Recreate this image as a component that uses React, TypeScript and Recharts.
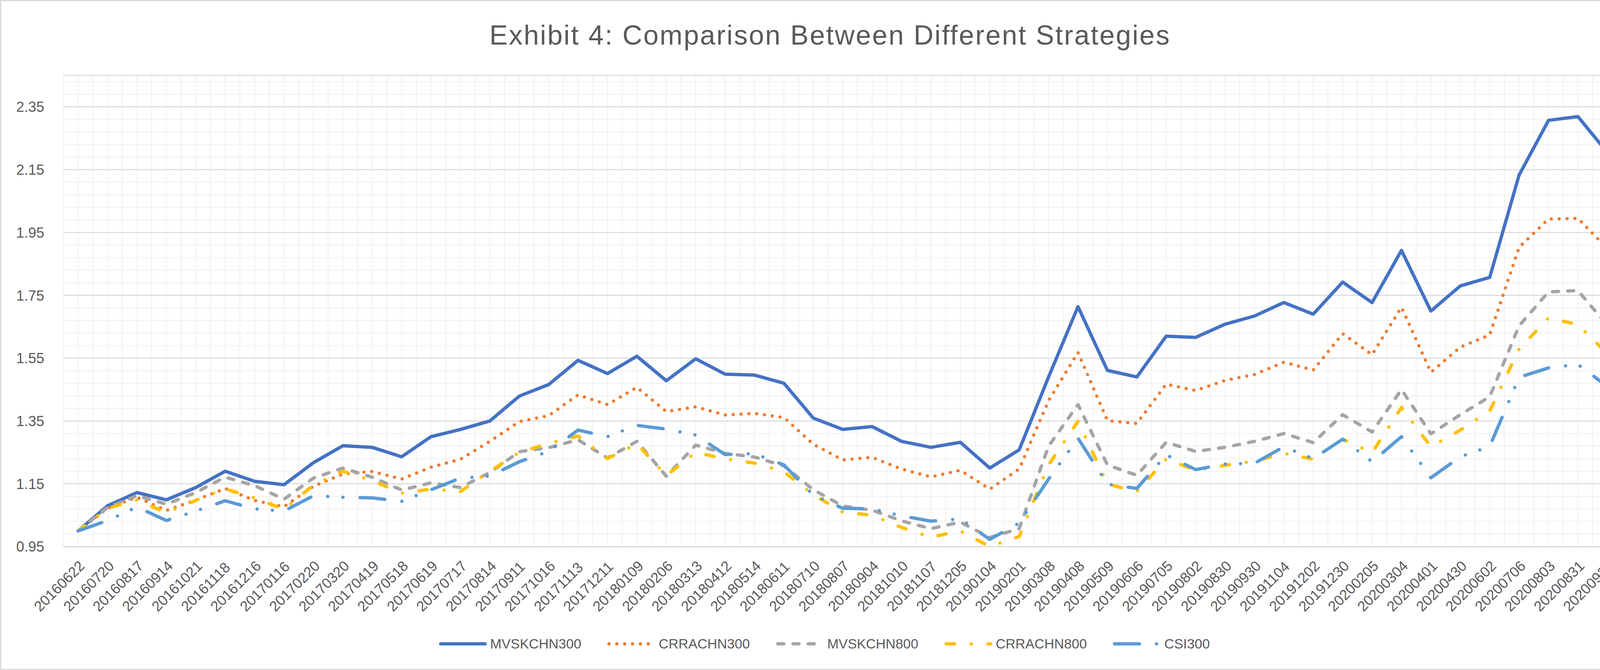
import { CartesianGrid, Legend, Line, LineChart, XAxis, YAxis } from 'recharts';

const DATES = [
  '20160622', '20160720', '20160817', '20160914', '20161021', '20161118', '20161216', '20170116',
  '20170220', '20170320', '20170419', '20170518', '20170619', '20170717', '20170814', '20170911',
  '20171016', '20171113', '20171211', '20180109', '20180206', '20180313', '20180412', '20180514',
  '20180611', '20180710', '20180807', '20180904', '20181010', '20181107', '20181205', '20190104',
  '20190201', '20190308', '20190408', '20190509', '20190606', '20190705', '20190802', '20190830',
  '20190930', '20191104', '20191202', '20191230', '20200205', '20200304', '20200401', '20200430',
  '20200602', '20200706', '20200803', '20200831', '20200928',
];

const MVSKCHN300 = [
  1.000, 1.080, 1.122, 1.099, 1.138, 1.190, 1.158, 1.147, 1.217, 1.271, 1.266, 1.236, 1.300, 1.323,
  1.350, 1.429, 1.466, 1.543, 1.501, 1.556, 1.478, 1.548, 1.499, 1.496, 1.470, 1.359, 1.323, 1.332,
  1.285, 1.266, 1.282, 1.200, 1.258, 1.490, 1.714, 1.511, 1.490, 1.620, 1.616, 1.658, 1.684, 1.727,
  1.690, 1.792, 1.727, 1.893, 1.700, 1.780, 1.807, 2.133, 2.307, 2.319, 2.205,
];
const CRRACHN300 = [
  1.000, 1.072, 1.107, 1.065, 1.098, 1.135, 1.097, 1.077, 1.142, 1.181, 1.189, 1.165, 1.203, 1.228,
  1.285, 1.348, 1.367, 1.433, 1.402, 1.457, 1.380, 1.395, 1.369, 1.374, 1.361, 1.276, 1.226, 1.234,
  1.197, 1.172, 1.193, 1.133, 1.197, 1.415, 1.568, 1.351, 1.342, 1.467, 1.447, 1.479, 1.498, 1.537,
  1.512, 1.628, 1.561, 1.712, 1.505, 1.585, 1.624, 1.903, 1.993, 1.995, 1.899,
];
const MVSKCHN800 = [
  1.000, 1.075, 1.112, 1.085, 1.122, 1.171, 1.144, 1.101, 1.168, 1.200, 1.171, 1.130, 1.153, 1.138,
  1.186, 1.252, 1.265, 1.290, 1.232, 1.285, 1.174, 1.273, 1.247, 1.235, 1.207, 1.131, 1.079, 1.066,
  1.032, 1.007, 1.028, 0.979, 1.007, 1.270, 1.402, 1.210, 1.177, 1.282, 1.253, 1.266, 1.285, 1.310,
  1.281, 1.370, 1.315, 1.450, 1.309, 1.370, 1.427, 1.653, 1.761, 1.765, 1.655,
];
const CRRACHN800 = [
  1.000, 1.072, 1.098, 1.058, 1.097, 1.134, 1.105, 1.068, 1.146, 1.190, 1.160, 1.120, 1.133, 1.125,
  1.190, 1.250, 1.278, 1.302, 1.230, 1.277, 1.176, 1.250, 1.229, 1.216, 1.188, 1.115, 1.060, 1.050,
  1.011, 0.980, 1.000, 0.950, 0.982, 1.210, 1.349, 1.149, 1.125, 1.229, 1.193, 1.209, 1.222, 1.247,
  1.228, 1.292, 1.249, 1.393, 1.268, 1.321, 1.382, 1.579, 1.678, 1.657, 1.564,
];
const CSI300 = [
  1.000, 1.033, 1.076, 1.033, 1.063, 1.096, 1.070, 1.063, 1.112, 1.107, 1.105, 1.094, 1.131, 1.168,
  1.175, 1.220, 1.253, 1.321, 1.300, 1.336, 1.324, 1.305, 1.243, 1.246, 1.210, 1.114, 1.072, 1.070,
  1.048, 1.031, 1.038, 0.973, 1.025, 1.165, 1.295, 1.149, 1.135, 1.242, 1.195, 1.213, 1.215, 1.268,
  1.230, 1.292, 1.220, 1.300, 1.169, 1.236, 1.269, 1.489, 1.519, 1.530, 1.460,
];

const Y_TICKS = [0.95, 1.15, 1.35, 1.55, 1.75, 1.95, 2.15, 2.35];
const Y_MIN = 0.95;
const Y_MAX = 2.45;
const MINOR_STEP = 0.04;

const SERIES = [
  { key: 'MVSKCHN300', color: '#4472C4', dash: undefined, values: MVSKCHN300 },
  { key: 'CRRACHN300', color: '#ED7D31', dash: '0.1 20', values: CRRACHN300 },
  { key: 'MVSKCHN800', color: '#A5A5A5', dash: '15.5 23.5', values: MVSKCHN800 },
  { key: 'CRRACHN800', color: '#FFC000', dash: '21.5 43 0.1 42.5', values: CRRACHN800 },
  { key: 'CSI300', color: '#5B9BD5', dash: '64 43.7 0.1 39 0.1 43.7', values: CSI300 },
];

const data = DATES.map((date, i) => {
  const row: Record<string, string | number> = { date };
  SERIES.forEach((s) => { row[s.key] = s.values[i]; });
  return row;
});

const FONT = '"Liberation Sans", Arial, sans-serif';
const TEXT = '#595959';
const W = 4199;
const H = 1708;
const LINE_W = 8.5;
const TICK_FONT = 37;

// light minor grid: every 0.04 on y, every half category on x
function minorRows({ offset }: any) {
  const out: number[] = [];
  for (let v = Y_MIN; v < Y_MAX - 1e-6; v += MINOR_STEP) {
    out.push(offset.top + ((Y_MAX - v) / (Y_MAX - Y_MIN)) * offset.height);
  }
  return out;
}

function halfColumns({ offset }: any) {
  const n = DATES.length * 2;
  const out: number[] = [];
  for (let k = 0; k <= n; k++) out.push(offset.left + (k * offset.width) / n);
  return out;
}

// label runs up-right at 45deg and ends just right of its tick
function DateTick({ x, y, payload }: any) {
  const len = String(payload.value).length * 0.556 * TICK_FONT * Math.SQRT1_2;
  const sx = x + 10 - len;
  const sy = y + 35 + len;
  return (
    <text x={sx} y={sy} transform={`rotate(-45 ${sx} ${sy})`} textAnchor="start" dominantBaseline="central"
      fill={TEXT} fontSize={TICK_FONT} fontFamily={FONT}>
      {payload.value}
    </text>
  );
}

function LegendBox() {
  return (
    <div style={{
      display: 'flex', justifyContent: 'center', alignItems: 'center', gap: 66, height: 50,
      fontFamily: FONT, fontSize: 35, color: TEXT, paddingLeft: 15,
    }}>
      {SERIES.map((s) => (
        <div key={s.key} style={{ display: 'flex', alignItems: 'center' }}>
          <svg width={124} height={20}>
            <line x1={5} y1={10} x2={119} y2={10} stroke={s.color} strokeWidth={LINE_W}
              strokeDasharray={s.dash} strokeLinecap="round" />
          </svg>
          <span style={{ marginLeft: 8 }}>{s.key}</span>
        </div>
      ))}
    </div>
  );
}

export default function App() {
  return (
    <div style={{
      position: 'absolute', left: 0, top: 0, width: 4205, height: 1714, boxSizing: 'border-box',
      border: '3px solid #D9D9D9', background: '#fff', overflow: 'hidden',
    }}>
      <div style={{
        position: 'absolute', left: 122, top: 52, width: 4000, textAlign: 'center', fontFamily: FONT,
        fontSize: 70, lineHeight: '70px', letterSpacing: 3, color: TEXT,
      }}>
        Exhibit 4: Comparison Between Different Strategies
      </div>
      <LineChart width={W} height={H} data={data}
        margin={{ top: 190, right: 49.6, bottom: 39, left: 0 }} style={{ fontFamily: FONT }}>
        <CartesianGrid stroke="#F2F2F2" strokeWidth={2.5}
          horizontalCoordinatesGenerator={minorRows} verticalCoordinatesGenerator={halfColumns} />
        <CartesianGrid stroke="#D9D9D9" strokeWidth={2.5} vertical={false} />
        <XAxis dataKey="date" interval={0} padding={{ left: 37.64, right: 37.64 }} height={223.7}
          tickLine={false} axisLine={{ stroke: '#D9D9D9', strokeWidth: 3 }} tick={<DateTick />} />
        <YAxis domain={[Y_MIN, Y_MAX]} ticks={Y_TICKS} width={159.4} tickLine={false} axisLine={false}
          tickMargin={43} tickFormatter={(v: number) => v.toFixed(2)}
          tick={{ fill: TEXT, fontSize: TICK_FONT, fontFamily: FONT }} />
        {SERIES.map((s) => (
          <Line key={s.key} type="linear" dataKey={s.key} stroke={s.color} strokeWidth={LINE_W}
            strokeDasharray={s.dash} strokeLinecap="round" strokeLinejoin="round"
            dot={false} activeDot={false} isAnimationActive={false} />
        ))}
        <Legend verticalAlign="bottom" content={<LegendBox />} wrapperStyle={{ left: 0, width: W }} />
      </LineChart>
    </div>
  );
}
